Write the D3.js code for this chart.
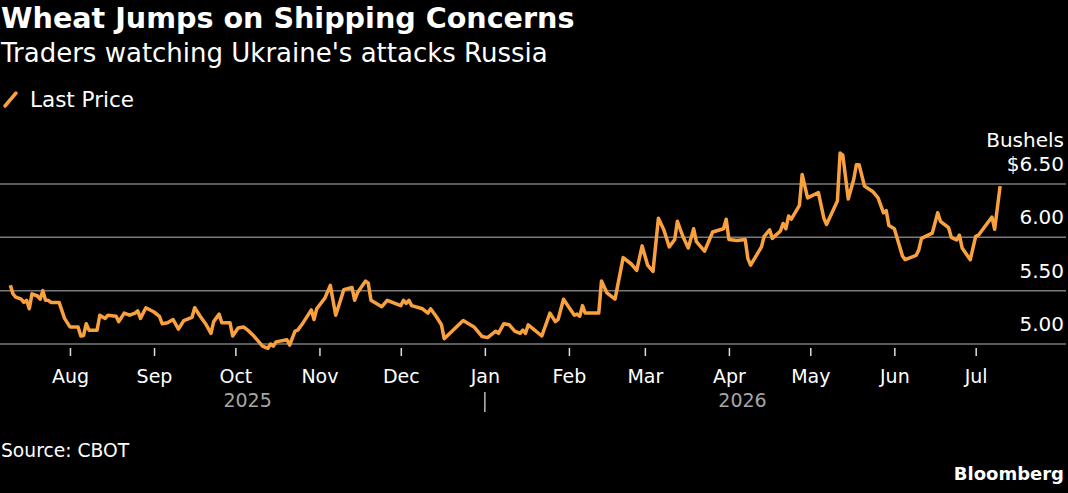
<!DOCTYPE html>
<meta charset="utf-8">
<script src="https://d3js.org/d3.v7.min.js"></script>
<style>
  body { margin: 0; background: #000; }
  svg text { font-family: "DejaVu Sans", sans-serif; fill: #fff; }
</style>
<div id="wheat-chart"></div>
<script>
// wheat, last price (from picture)
var dates = ["2025-07-10","2025-07-11","2025-07-12","2025-07-14","2025-07-15","2025-07-16","2025-07-17","2025-07-18","2025-07-20","2025-07-21","2025-07-22","2025-07-23","2025-07-24","2025-07-25","2025-07-28","2025-07-30",
  "2025-08-01","2025-08-04","2025-08-05","2025-08-06","2025-08-07","2025-08-08","2025-08-11","2025-08-12","2025-08-14","2025-08-15","2025-08-18","2025-08-19","2025-08-21","2025-08-23","2025-08-25","2025-08-26","2025-08-27","2025-08-29",
  "2025-09-01","2025-09-03","2025-09-04","2025-09-06","2025-09-08","2025-09-10","2025-09-12","2025-09-15","2025-09-16","2025-09-18","2025-09-20","2025-09-22","2025-09-23","2025-09-25","2025-09-26","2025-09-29","2025-09-30",
  "2025-10-02","2025-10-04","2025-10-06","2025-10-08","2025-10-11","2025-10-13","2025-10-14","2025-10-15","2025-10-16","2025-10-20","2025-10-21","2025-10-23","2025-10-24","2025-10-26","2025-10-29","2025-10-30","2025-10-31",
  "2025-11-03","2025-11-05","2025-11-07","2025-11-10","2025-11-13","2025-11-14","2025-11-15","2025-11-18","2025-11-19","2025-11-20","2025-11-24","2025-11-26",
  "2025-12-01","2025-12-02","2025-12-03","2025-12-04","2025-12-05","2025-12-09","2025-12-11","2025-12-12","2025-12-14","2025-12-16","2025-12-17","2025-12-24","2025-12-28","2025-12-31",
  "2026-01-02","2026-01-05","2026-01-06","2026-01-08","2026-01-10","2026-01-12","2026-01-14","2026-01-15","2026-01-16","2026-01-17","2026-01-22","2026-01-25","2026-01-27","2026-01-28","2026-01-30",
  "2026-02-03","2026-02-04","2026-02-05","2026-02-06","2026-02-07","2026-02-12","2026-02-13","2026-02-15","2026-02-18","2026-02-21","2026-02-24","2026-02-26","2026-02-28",
  "2026-03-02","2026-03-04","2026-03-06","2026-03-08","2026-03-10","2026-03-12","2026-03-13","2026-03-15","2026-03-17","2026-03-19","2026-03-20","2026-03-23","2026-03-26","2026-03-30","2026-03-31",
  "2026-04-01","2026-04-04","2026-04-07","2026-04-08","2026-04-09","2026-04-13","2026-04-14","2026-04-16","2026-04-17","2026-04-20","2026-04-21","2026-04-22","2026-04-23","2026-04-24","2026-04-27","2026-04-28","2026-04-30",
  "2026-05-04","2026-05-06","2026-05-07","2026-05-11","2026-05-12","2026-05-13","2026-05-15","2026-05-17","2026-05-18","2026-05-19","2026-05-21","2026-05-24","2026-05-26","2026-05-28","2026-05-29","2026-05-30",
  "2026-06-01","2026-06-04","2026-06-05","2026-06-09","2026-06-10","2026-06-11","2026-06-15","2026-06-17","2026-06-18","2026-06-21","2026-06-22","2026-06-24","2026-06-25","2026-06-26","2026-06-29",
  "2026-07-01","2026-07-02","2026-07-07","2026-07-08","2026-07-10"];
var prices = [5.55,5.47,5.44,5.42,5.39,5.41,5.33,5.47,5.45,5.42,5.50,5.41,5.41,5.39,5.39,5.24,
  5.16,5.16,5.075,5.08,5.19,5.13,5.13,5.27,5.24,5.27,5.26,5.21,5.29,5.27,5.29,5.31,5.24,5.34,
  5.30,5.26,5.19,5.20,5.23,5.14,5.22,5.25,5.34,5.26,5.19,5.10,5.21,5.28,5.20,5.20,5.075,
  5.15,5.16,5.12,5.07,4.98,4.96,5.00,4.98,5.02,5.04,4.99,5.12,5.13,5.20,5.32,5.23,5.33,
  5.43,5.55,5.27,5.51,5.53,5.41,5.48,5.59,5.57,5.41,5.35,5.41,
  5.36,5.41,5.38,5.41,5.36,5.33,5.29,5.33,5.26,5.18,5.05,5.22,5.16,5.07,
  5.06,5.12,5.10,5.19,5.18,5.12,5.10,5.13,5.10,5.18,5.075,5.29,5.21,5.23,5.42,
  5.27,5.28,5.26,5.36,5.29,5.29,5.59,5.48,5.42,5.81,5.75,5.69,5.92,
  5.74,5.68,6.18,6.07,5.91,5.98,6.15,6.01,5.90,6.08,5.96,5.87,6.05,6.08,6.17,
  5.98,5.97,5.98,5.80,5.74,5.91,6.01,6.07,5.99,6.06,6.13,6.08,6.20,6.17,6.30,6.59,6.37,
  6.42,6.18,6.12,6.34,6.79,6.77,6.36,6.54,6.68,6.68,6.48,6.43,6.37,6.23,6.25,6.11,
  6.08,5.825,5.79,5.83,5.88,5.99,6.04,6.23,6.15,6.09,6.00,5.975,6.02,5.90,5.79,
  6.01,6.02,6.19,6.075,6.48];
var yTicks = [5.0, 5.5, 6.0, 6.5];
var yearLabels = ["2025", "2026"];

var W = 1068, H = 493;
var parse = d3.timeParse("%Y-%m-%d");
var data = dates.map(function(d, i) { return { date: parse(d), price: prices[i] }; });

var svg = d3.select("#wheat-chart").append("svg")
  .attr("width", W).attr("height", H);

var x = d3.scaleTime()
  .domain([parse("2025-07-10"), parse("2026-07-10")])
  .range([10.3, 1000.1]);
var y = d3.scaleLinear()
  .domain([5, 6.5])
  .range([344, 184]);

// titles
svg.append("text").attr("x", 1).attr("y", 28)
  .style("font-size", "28.6px").style("font-weight", "bold")
  .text("Wheat Jumps on Shipping Concerns");
svg.append("text").attr("x", 1).attr("y", 62)
  .style("font-size", "26px")
  .text("Traders watching Ukraine's attacks Russia");

// legend
svg.append("line").attr("x1", 5).attr("y1", 106).attr("x2", 16).attr("y2", 93)
  .attr("stroke", "#f9a03f").attr("stroke-width", 3.5).attr("stroke-linecap", "round");
svg.append("text").attr("x", 30).attr("y", 107)
  .style("font-size", "21.5px").text("Last Price");

// gridlines + labels
var grid = svg.append("g");
grid.selectAll("line").data(yTicks).enter().append("line")
  .attr("x1", 0).attr("x2", 1066)
  .attr("y1", function(d) { return y(d); }).attr("y2", function(d) { return y(d); })
  .attr("stroke", "#7a7a7a").attr("stroke-width", 1.5);
grid.selectAll("text").data(yTicks).enter().append("text")
  .attr("x", 1064).attr("y", function(d) { return y(d) - 13; })
  .attr("text-anchor", "end").style("font-size", "20px")
  .text(function(d) { return (d == 6.5 ? "$" : "") + d3.format(".2f")(d); });
svg.append("text").attr("x", 1064).attr("y", y(6.5) - 37)
  .attr("text-anchor", "end").style("font-size", "20px").text("Bushels");

// x axis
var xAxis = svg.append("g")
  .attr("transform", "translate(0,348)")
  .call(d3.axisBottom(x)
    .ticks(d3.timeMonth.every(1))
    .tickFormat(d3.timeFormat("%b"))
    .tickSize(8));
xAxis.select(".domain").remove();
xAxis.selectAll(".tick line").attr("stroke", "#ddd").attr("stroke-width", 1.5);
xAxis.selectAll(".tick text").attr("y", 35).attr("dy", 0)
  .style("font-size", "19px").attr("fill", "#fff");
xAxis.selectAll(".tick").filter(function(d) { return d < parse("2025-07-20"); }).remove();

var jan = parse("2026-01-01");
svg.append("text").attr("x", (x.range()[0] + x(jan)) / 2).attr("y", 407)
  .attr("text-anchor", "middle").style("font-size", "19px").style("fill", "#a6a6a6")
  .text(yearLabels[0]);
svg.append("text").attr("x", (x(jan) + x.range()[1]) / 2).attr("y", 407)
  .attr("text-anchor", "middle").style("font-size", "19px").style("fill", "#a6a6a6")
  .text(yearLabels[1]);
svg.append("line").attr("x1", x(jan)).attr("x2", x(jan)).attr("y1", 392).attr("y2", 412)
  .attr("stroke", "#bbb").attr("stroke-width", 1.5);

// price line
svg.append("path").datum(data)
  .attr("fill", "none").attr("stroke", "#f9a03f").attr("stroke-width", 3.5)
  .attr("stroke-linejoin", "round")
  .attr("d", d3.line().x(function(d) { return x(d.date); }).y(function(d) { return y(d.price); }));

// footer
svg.append("text").attr("x", 1).attr("y", 457).style("font-size", "18.7px").text("Source: CBOT");
svg.append("text").attr("x", 1064).attr("y", 480).attr("text-anchor", "end")
  .style("font-size", "18px").style("font-weight", "bold").text("Bloomberg");
</script>
